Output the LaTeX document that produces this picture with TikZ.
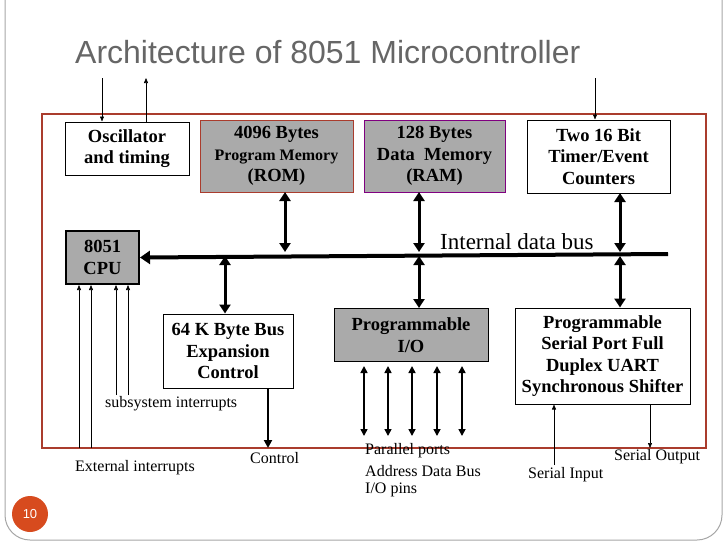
\documentclass[tikz,border=0pt]{standalone}
\usepackage{fontspec}
\setmainfont{Liberation Serif}
\newfontfamily\sansf{Liberation Sans}
\usetikzlibrary{arrows.meta}
\definecolor{frame}{RGB}{170,60,45}
\definecolor{boxgray}{RGB}{170,170,170}
\definecolor{pnum}{RGB}{215,75,30}
\begin{document}
\begin{tikzpicture}[x=1pt,y=-1pt,
  blk/.style={draw=black,line width=1pt,align=center,font=\bfseries\fontsize{18.5}{21.5}\selectfont,inner sep=0pt},
  thick2/.style={line width=3pt,{Triangle[length=9pt,width=11pt]}-{Triangle[length=9pt,width=11pt]}},
  thin1/.style={line width=0.6pt,-{Triangle[length=5pt,width=4pt]}},
  lab/.style={font=\fontsize{16}{18}\selectfont,inner sep=0pt}]
\useasboundingbox (0,0) rectangle (728,546);
\draw[gray!70,line width=1pt] (5,0) -- (5,515) arc[start angle=180,end angle=90,radius=25] -- (697,540) arc[start angle=90,end angle=0,radius=25] -- (722,0);
\node[anchor=west,font=\sansf\fontsize{32}{36}\selectfont,text=gray!80!black,inner sep=0pt] (title) at (75,52) {Architecture of 8051 Microcontroller};
\draw[frame,line width=2pt] (42,114) rectangle (706,448);
\node[blk,minimum width=124pt,minimum height=53pt] (osc) at (127,148.5) {Oscillator\\and timing};
\node[blk,draw=frame,fill=boxgray,minimum width=153pt,minimum height=72pt] (rom) at (276.5,156) {4096 Bytes\\{\fontsize{16}{19}\selectfont Program Memory}\\(ROM)};
\node[blk,draw=violet,fill=boxgray,minimum width=141pt,minimum height=72pt] (ram) at (434.5,156) {128 Bytes\\Data\ \ Memory\\(RAM)};
\node[blk,minimum width=143pt,minimum height=73pt] (tim) at (598.5,156.5) {Two 16 Bit\\Timer/Event\\Counters};
\node[blk,line width=2pt,fill=boxgray,minimum width=73pt,minimum height=53pt] (cpu) at (102.5,257.5) {8051\\CPU};
\node[blk,minimum width=130pt,minimum height=74pt] (exp) at (228,351) {64 K Byte Bus\\Expansion\\Control};
\node[blk,fill=boxgray,minimum width=154pt,minimum height=53pt,anchor=north] (pio) at (411,308) {Programmable\\I/O};
\node[blk,minimum width=175pt,minimum height=96pt] (ser) at (602.5,356) {Programmable\\Serial Port Full\\Duplex UART\\Synchronous Shifter};
\coordinate (busE) at (668,254);
\draw[line width=4pt,-{Triangle[length=10pt,width=13pt]}] (busE) -- (cpu.east);
\node[anchor=west,font=\fontsize{23}{26}\selectfont,inner sep=0pt] (busl) at (440,242) {Internal data bus};
\draw[thick2] (285,192) -- (285,252);
\draw[thick2] (419,192) -- (419,252);
\draw[thick2] (419,256) -- (pio.north -| 419,0);
\draw[thick2] (620,193) -- (620,252);
\draw[thick2] (620,256) -- (ser.north -| 620,0);
\draw[thick2] (225,256) -- (exp.north -| 225,0);
\draw[thin1] (102,78) -- (osc.north -| 102,0);
\draw[thin1] (osc.north -| 146,0) -- (146,78);
\draw[thin1] (595,78) -- (tim.north -| 595,0);
\foreach \x in {79,91} \draw[thin1] (\x,448) -- (cpu.south -| \x,0);
\foreach \x in {116,128} \draw[thin1] (\x,395) -- (cpu.south -| \x,0);
\node[lab,anchor=west] (sub) at (105,404) {subsystem interrupts};
\node[lab,anchor=west] (ext) at (75,468) {External interrupts};
\coordinate (ctl) at (268,448);
\draw[line width=2pt,-{Triangle[length=8pt,width=8pt]}] (exp.south -| ctl) -- (ctl);
\node[lab,anchor=west] (ctll) at (250,458) {Control};
\foreach \x in {364,388,412,437,462} \draw[line width=1.6pt,{Triangle[length=7pt,width=7pt]}-{Triangle[length=7pt,width=7pt]}] (\x,366) -- (\x,436);
\node[lab,anchor=west] (pp) at (365,451) {Parallel ports};
\node[lab,anchor=west] (adb) at (365,471) {Address Data Bus};
\node[lab,anchor=west] (iop) at (365,490) {I/O pins};
\draw[thin1] (554,465) -- (ser.south -| 554,0);
\node[lab,anchor=west] (sin) at (528,475) {Serial Input};
\draw[thin1] (ser.south -| 650,0) -- (650,448);
\node[lab,anchor=west] (sout) at (614,457) {Serial Output};
\node[circle,fill=pnum,minimum size=36pt,text=white,font=\sansf\fontsize{13}{14}\selectfont] (pg) at (30,514) {10};
\end{tikzpicture}
\end{document}
